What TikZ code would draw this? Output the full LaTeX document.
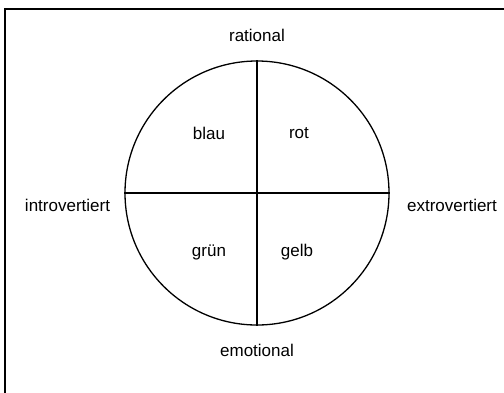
\documentclass[tikz,border=0pt]{standalone}
\usepackage{fontspec}
\setmainfont{Liberation Sans}
\usepackage{tikz}
\usetikzlibrary{positioning, calc}

\begin{document}
\begin{tikzpicture}[x=1bp,y=1bp,
    label/.style={font=\fontsize{17bp}{20bp}\selectfont, inner sep=0pt}]
  % Picture frame
  \useasboundingbox (-257,-199) rectangle (247,193);
  \clip (-257,-199) rectangle (247,193);
  \draw[line width=1.4bp] (-252,-210) -- (-252,184) -- (260,184);
  
  % Circle with axes
  \node[circle, draw, line width=1.3bp, minimum size=264bp, inner sep=0pt] (kreis) at (0,0) {};
  \draw[line width=1.3bp] (kreis.north) -- (kreis.south);
  \draw[line width=1.3bp] (kreis.west) -- (kreis.east);
  
  % Axis labels
  \node[label] (rational) at (0,158) {rational};
  \node[label] (emotional) at (0,-157) {emotional};
  \node[label] (intro) at (-189.5,-12) {introvertiert};
  \node[label] (extro) at (195,-12) {extrovertiert};
  
  % Quadrant labels
  \node[label] (blau) at (-48,60) {blau};
  \node[label] (rot) at (42,60) {rot};
  \node[label] (gruen) at (-48,-59) {grün};
  \node[label] (gelb) at (40,-59) {gelb};
\end{tikzpicture}
\end{document}
